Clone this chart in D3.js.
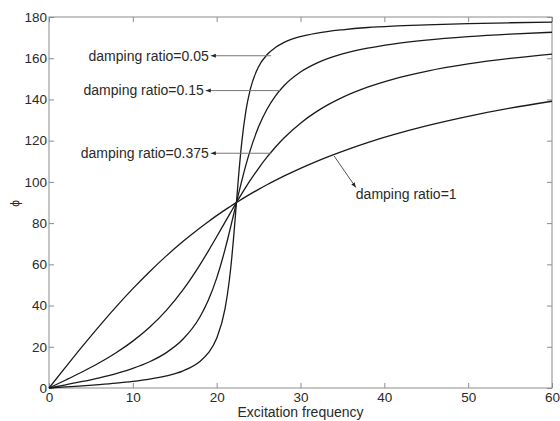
<!DOCTYPE html>
<html><head><meta charset="utf-8">
<script src="https://cdn.jsdelivr.net/npm/d3@7/dist/d3.min.js"></script>
<style>body{margin:0;background:#fff}svg{display:block}text{font-family:Arial,"Liberation Sans",sans-serif}</style>
</head><body><svg id="c" width="560" height="421"></svg>
<script>
// Excitation frequency samples
const freq = [0,2,4,6,8,10,12,14,16,18,19,20,21,21.5,21.8,22,22.2,22.36,22.6,23,23.5,24,25,26,27,28,30,32,35,38,41,45,50,55,60];
// phase angle (degrees), one array per damping ratio
const phi005 = [0,0.52,1.06,1.66,2.35,3.2,4.31,5.88,8.34,12.88,17.0,24.1,38.5,51.9,63.1,72.0,81.8,90,102.1,119.4,134.8,144.8,155.9,161.7,165.2,167.6,170.5,172.2,173.8,174.9,175.6,176.2,176.8,177.2,177.5];
const phi015 = [0,1.55,3.17,4.96,7.02,9.52,12.74,17.17,23.74,34.46,42.52,53.3,67.28,75.33,80.41,83.81,87.26,90,94.07,100.65,108.34,115.27,126.7,135.26,141.66,146.52,153.29,157.72,162.06,164.89,166.89,168.8,170.48,171.69,172.6];
const phi0375 = [0,3.87,7.89,12.23,17.1,22.75,29.48,37.68,47.71,59.75,66.43,73.4,80.49,84.02,86.13,87.52,88.9,90,91.63,94.3,97.55,100.69,106.6,111.98,116.82,121.17,128.49,134.32,141.0,145.98,149.79,153.67,157.25,159.93,162.02];
const phi1 = [0,10.22,20.29,30.04,39.38,48.19,56.44,64.1,71.18,77.66,80.7,83.62,86.41,87.76,88.56,89.07,89.59,90,90.61,91.62,92.85,94.05,96.37,98.61,100.73,102.77,106.6,110.12,114.84,119.07,122.78,127.16,131.81,135.77,139.13];
const seriesList = [phi005, phi015, phi0375, phi1];
const xTicks = [0,10,20,30,40,50,60];
const yTicks = [0,20,40,60,80,100,120,140,160,180];
// annotation labels with their arrows (data coordinates)
const annLabels = ["damping ratio=0.05","damping ratio=0.15","damping ratio=0.375","damping ratio=1"];
const annFrom = [[26.5,161.2],[27.6,144.3],[26.5,113.9],[34.0,112.6]];
const annTo   = [[19.3,161.2],[18.7,144.3],[19.3,113.9],[36.6,97.3]];

const svg = d3.select("#c");
const m = {l:49, r:8, t:17, b:33};
const W = 560, H = 421;
const x = d3.scaleLinear().domain([0,60]).range([m.l, W-m.r]);
const y = d3.scaleLinear().domain([0,180]).range([H-m.b, m.t]);
const frame = "#8c8c8c";

// frame
svg.append("rect").attr("x",m.l).attr("y",m.t).attr("width",W-m.r-m.l).attr("height",H-m.b-m.t)
  .attr("fill","none").attr("stroke",frame).attr("stroke-width",1);

// axes with inward ticks
const fmt = d3.format("d");
const gx = svg.append("g").attr("transform",`translate(0,${H-m.b})`)
  .call(d3.axisBottom(x).tickValues(xTicks).tickSizeInner(-5).tickSizeOuter(0).tickPadding(4).tickFormat(fmt));
const gxt = svg.append("g").attr("transform",`translate(0,${m.t})`)
  .call(d3.axisTop(x).tickValues(xTicks).tickSizeInner(-5).tickSizeOuter(0).tickFormat(""));
const gy = svg.append("g").attr("transform",`translate(${m.l},0)`)
  .call(d3.axisLeft(y).tickValues(yTicks).tickSizeInner(-5).tickSizeOuter(0).tickPadding(2).tickFormat(fmt));
const gyr = svg.append("g").attr("transform",`translate(${W-m.r},0)`)
  .call(d3.axisRight(y).tickValues(yTicks).tickSizeInner(-5).tickSizeOuter(0).tickFormat(""));
[gx,gxt,gy,gyr].forEach(g=>{
  g.select(".domain").remove();
  g.selectAll(".tick line").attr("stroke",frame);
  g.selectAll("text").attr("font-size",13.5).attr("fill","#2a2a2a").attr("font-family","Arial, 'Liberation Sans', sans-serif");
});

// curves
const line = d3.line().x((d,i)=>x(freq[i])).y(d=>y(d)).curve(d3.curveMonotoneX);
svg.append("g").selectAll("path").data(seriesList).join("path")
  .attr("d",line).attr("fill","none").attr("stroke","#1a1a1a").attr("stroke-width",1.3);

// arrows
const defs = svg.append("defs");
defs.append("marker").attr("id","ah").attr("viewBox","0 0 10 10").attr("refX",10).attr("refY",5)
  .attr("markerWidth",5).attr("markerHeight",5).attr("orient","auto")
  .append("path").attr("d","M0,1 L10,5 L0,9 Z").attr("fill","#222");
const ann = svg.append("g");
annLabels.forEach((lab,i)=>{
  const [fx,fy] = annFrom[i], [tx,ty] = annTo[i];
  ann.append("line").attr("x1",x(fx)).attr("y1",y(fy)).attr("x2",x(tx)).attr("y2",y(ty))
    .attr("stroke",i<3?"#777":"#555").attr("stroke-width",1).attr("marker-end","url(#ah)");
  const t = ann.append("text").attr("font-size",14).attr("fill","#2a2a2a").text(lab);
  if (i<3) t.attr("x",x(tx)-2).attr("y",y(ty)).attr("dy","0.35em").attr("text-anchor","end");
  else t.attr("x",x(tx)).attr("y",y(ty)).attr("dy","0.8em").attr("text-anchor","start");
});

// axis labels
svg.append("text").attr("x",(x(0)+x(60))/2).attr("y",H-4).attr("text-anchor","middle")
  .attr("font-size",14).attr("fill","#2a2a2a").text("Excitation frequency");
svg.append("text").attr("transform",`translate(15,${y(90)+1}) rotate(-90)`).attr("text-anchor","middle")
  .attr("dy","0.35em").attr("font-size",12).attr("fill","#2a2a2a").text("ϕ");
</script></body></html>
